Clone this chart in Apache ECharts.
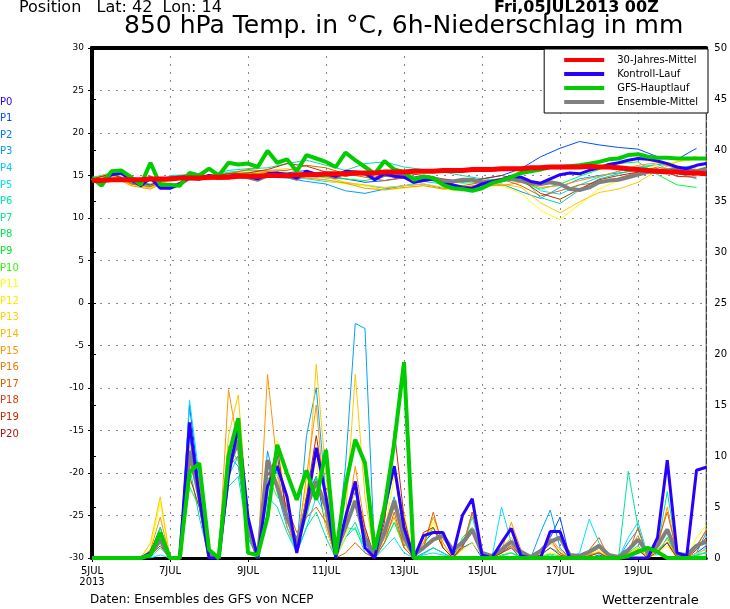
<!DOCTYPE html>
<html>
<head>
<meta charset="utf-8">
<script src="https://cdn.jsdelivr.net/npm/echarts@6/dist/echarts.min.js"></script>
<style>html,body{margin:0;padding:0;background:#fff}#main{width:730px;height:609px}</style>
</head>
<body>
<div id="main"></div>
<script>
// Zeitachse: Stunden ab 05JUL2013 00Z, 6h-Schritte
const tickLabels = { 0: '5JUL\n2013', 48: '7JUL', 96: '9JUL', 144: '11JUL', 192: '13JUL', 240: '15JUL', 288: '17JUL', 336: '19JUL' }

// 850 hPa Temperatur, 6h
const climoTemp = [14.4,14.4,14.5,14.5,14.5,14.5,14.6,14.6,14.6,14.7,14.7,14.7,14.8,14.8,14.8,14.9,14.9,14.9,15.0,15.0,15.0,15.1,15.1,15.1,15.2,15.2,15.2,15.3,15.3,15.3,15.4,15.4,15.4,15.5,15.5,15.5,15.6,15.6,15.6,15.7,15.7,15.7,15.8,15.8,15.8,15.9,15.9,16.0,16.0,16.0,16.0,16.1,16.0,16.0,15.9,15.8,15.7,15.6,15.5,15.4,15.4,15.3,15.3,15.2]
const gfsTemp = [14.7,13.8,15.5,15.6,14.8,13.9,16.5,13.9,13.9,13.8,15.3,15.0,15.8,15.0,16.5,16.3,16.4,16.0,17.9,16.5,16.9,15.5,17.4,17.0,16.6,16.0,17.7,16.8,16.0,15.2,16.7,15.7,15.4,14.5,14.9,14.7,13.9,13.5,13.4,13.2,13.5,14.1,14.4,14.8,15.3,15.5,15.7,16.0,16.0,16.1,16.2,16.4,16.6,16.9,17.0,17.4,17.5,17.2,17.1,17.1,17.0,17.0,17.0,17.0]
const controlTemp = [14.6,14.3,15.1,15.3,14.5,13.8,14.7,13.5,13.5,14.0,14.8,14.6,15.0,14.7,14.9,15.0,14.9,14.6,15.2,15.3,15.1,14.7,15.5,15.1,15.2,14.9,15.5,15.4,15.3,14.5,15.2,14.9,14.8,14.2,14.4,14.6,14.0,13.9,13.6,13.5,14.0,14.3,14.5,14.9,14.8,14.3,14.1,14.6,15.1,15.3,15.2,15.6,15.9,16.3,16.5,16.8,17.0,16.9,16.7,16.4,16.0,15.8,16.2,16.4]
const meanTemp = [14.6,14.4,15.2,15.3,14.6,14.0,14.8,13.7,13.6,14.0,14.7,14.6,14.9,14.7,14.8,14.9,14.8,14.5,15.0,15.1,15.0,14.6,15.3,15.0,15.1,14.8,15.4,15.3,15.2,14.6,15.1,15.0,14.9,14.4,14.5,14.7,14.3,14.3,14.5,14.5,14.2,14.3,14.5,14.6,14.4,14.1,14.0,14.2,14.0,13.4,13.3,13.6,14.2,14.4,14.5,14.8,15.1,15.4,15.5,15.6,15.8,15.6,15.5,15.8]

// Ensemble-Mitglieder Temperatur, 12h
const memberNames = ['P1','P3','P5','P7','P9','P11','P13','P15','P17','P19']
const memberColors = ['#0050ff','#00a0ff','#00e0ff','#00e0a0','#00ff40','#ffff00','#ffc800','#ff9600','#e06400','#c82800']
const memberTemp = [
  [14.5,15.3,14.1,13.6,14.9,15.0,14.8,15.1,15.2,15.4,15.3,15.6,15.0,14.6,14.2,14.4,14.8,14.9,14.5,14.2,14.6,15.0,15.8,17.2,18.2,19.0,18.6,18.3,18.1,17.2,16.9,18.2],
  [14.7,15.1,14.2,13.8,14.8,14.8,14.6,15.0,15.0,14.8,14.7,14.3,14.0,13.2,12.9,13.4,13.8,14.0,13.5,13.2,13.6,14.0,13.1,12.3,13.6,14.6,15.0,15.3,15.6,15.2,15.9,16.2],
  [14.6,15.4,14.3,13.7,15.0,15.1,14.9,15.4,15.6,15.3,15.0,14.6,14.3,14.1,13.8,13.5,13.8,14.3,14.0,13.5,13.8,14.3,14.7,13.2,12.8,13.9,14.8,15.5,16.0,16.3,15.3,14.6],
  [14.5,15.0,14.4,14.0,14.7,15.2,15.0,15.6,15.8,15.9,16.4,16.8,16.2,15.6,16.4,16.6,16.0,15.7,15.4,15.0,14.6,14.5,14.9,12.4,11.7,13.3,14.6,15.2,15.8,16.3,16.1,15.6],
  [14.8,15.2,14.2,13.9,14.9,15.0,14.8,15.3,15.4,15.1,14.9,15.2,14.7,14.6,14.4,14.9,15.1,14.6,14.4,14.1,14.2,14.6,14.2,13.4,14.0,14.9,15.7,16.4,16.6,15.1,13.9,13.6],
  [14.4,15.1,13.9,13.6,14.6,14.9,14.7,15.1,15.5,15.2,15.0,14.8,14.4,14.0,13.8,13.3,13.5,13.8,13.4,13.2,13.7,13.8,12.9,10.9,9.8,11.6,13.4,14.4,15.1,16.4,16.6,16.9],
  [14.6,15.3,14.0,13.5,14.7,14.8,14.6,14.9,15.2,15.6,15.8,15.2,14.8,14.2,13.9,13.6,13.8,14.0,13.6,13.5,13.9,14.0,13.6,11.8,10.6,11.9,13.0,13.4,14.2,15.6,16.6,17.3],
  [14.3,15.0,13.8,13.4,14.5,14.6,14.5,14.8,15.0,15.4,15.1,14.7,14.5,14.1,13.5,13.3,13.6,13.8,13.4,13.6,14.0,13.8,14.2,13.6,13.8,14.4,14.9,15.5,16.2,16.5,15.8,15.9],
  [14.5,15.2,14.0,13.7,14.6,15.1,15.0,15.2,15.7,15.5,15.6,16.2,15.9,15.2,14.8,14.4,14.7,14.6,14.1,13.8,14.2,14.6,13.8,12.6,13.2,13.9,14.2,14.7,15.4,16.0,15.5,15.0],
  [14.6,15.2,14.3,13.9,14.8,15.0,14.9,15.2,15.3,15.7,16.4,16.1,15.4,14.9,15.3,15.6,15.3,15.0,14.6,14.3,14.6,15.0,14.5,12.9,12.2,13.4,14.5,15.0,15.4,15.8,14.9,14.8]
]

// 6h-Niederschlag
const gfsPrecip = [0,0,0,0,0,0,0.3,2.5,0,0,8.4,9.3,0.8,0,10.0,13.7,0.5,0.3,4.0,11.1,8.3,5.7,8.6,5.7,10.6,0.3,7.1,11.6,9.3,0.8,5.0,11.3,19.2,0,0,0,0,0,0,0,0,0,0,0,0,0,0,0,0,0,0,0,0,0,0,0.2,0.6,1.0,0.6,0,0,0,0,0]
const controlPrecip = [0,0,0,0,0,0,0.5,2.5,0,0,13.3,6.0,0,0,8.0,13.0,4.0,0,7.0,9.0,6.0,0.5,5.0,10.8,6.0,0,4.0,7.5,1.0,0,5.0,9.0,3.0,0,2.2,2.5,2.5,0.3,4.2,5.8,0.3,0,1.5,2.9,0.2,0,0,2.6,2.6,0,0,0,0,0,0,0,0,0,2.0,9.6,0.5,0.2,8.6,8.9]
const meanPrecip = [0,0,0,0,0,0,0.4,1.8,0,0,10.5,6.0,0.3,0,9.0,11.5,3.0,0,9.6,7.0,4.0,1.5,5.0,7.5,5.0,0.5,3.0,5.6,2.0,0.3,2.5,5.6,2.0,0.3,1.0,1.8,2.2,0.8,1.5,2.8,0.5,0.2,0.8,1.6,0.6,0.1,0.7,1.6,2.0,0.3,0.2,0.6,1.2,0.3,0.1,0.8,1.8,0.5,1.2,2.8,0.4,0.3,1.2,1.6]
const memberPrecip = [
  [0,0,0,0,0,0,0.5,3.0,0,0,15.0,7.0,0,0,9.5,12.0,3.0,0,8.0,10.0,4.0,0.5,6.0,8.0,3.0,0,4.0,6.5,1.5,0,4.0,9.0,2.0,0,1.5,2.5,2.0,0.5,1.0,1.5,0,0,0.5,1.0,0,0,0.5,2.0,4.0,0,0,0,0.3,0,0,0.2,0.8,0,0.5,1.5,0,0,0.5,1.2],
  [0,0,0,0,0,0,0.2,1.5,0,0,12.0,5.5,0,0,10.0,9.0,2.0,0,10.5,6.5,3.0,1.0,12.0,16.7,6.0,0,9.0,23.0,22.5,0,3.0,6.0,1.0,0,0.5,1.0,0.5,0,1.5,3.0,0.3,0,0.5,1.5,0.4,0,2.5,4.7,1.0,0,0,0.3,1.0,0,0,1.5,2.8,0.2,0.8,1.5,0,0,0.5,2.5],
  [0,0,0,0,0,0,0,0.3,0,0,15.5,8.0,0,0,8.0,10.0,2.5,0,7.0,8.5,3.0,0.5,3.0,6.0,4.0,0,2.0,3.0,0.5,0,1.0,2.0,0.5,0,0.3,0.5,0.3,0,1.0,4.0,0.4,0,5.0,1.5,0.5,0,0.3,1.0,0.5,0,0.5,3.8,1.5,0,0,2.0,3.5,0.3,0.3,2.0,0.2,0,0.3,1.0],
  [0,0,0,0,0,0,0.1,1.0,0,0,9.0,4.0,0,0,7.0,8.0,2.0,0,6.0,5.0,2.5,0.5,3.0,4.5,2.0,0,2.0,3.5,1.0,0,1.5,3.5,1.5,0,0.4,1.0,0.5,0,0.8,4.5,0.5,0,0.3,0.5,0,0,0.2,0.4,0.2,0,0,0.5,1.0,0,0,8.5,3.0,0,1.0,6.5,0.5,0,0.3,0.5],
  [0,0,0,0,0,0,0.5,3.0,0,0,7.0,5.0,0,0,11.0,9.5,3.5,0,8.0,6.0,5.0,1.0,4.0,8.0,5.0,0,3.0,2.8,1.0,0,1.5,3.5,1.0,0,1.2,3.0,1.0,0,2.0,3.0,0.2,0,0.2,0.5,0.2,0,0.1,0.3,0,0,0,0.2,0.5,0,0,0.5,1.2,0,0.5,2.0,0,0,0.2,0.6],
  [0,0,0,0,0,0,1.0,5.5,0,0,10.0,6.5,0,0,8.5,12.5,3.0,0,6.5,11.5,5.0,1.5,7.0,9.5,3.0,0,2.0,7.0,2.5,0,2.5,8.0,4.5,0,1.5,3.5,1.5,0,0.8,1.5,0.2,0,0.4,1.2,0.3,0,0.2,0.5,0.3,0,0,0.4,0.8,0,0,0.3,1.0,0,0.5,1.2,0,0,2.0,3.2],
  [0,0,0,0,0,0,1.5,6.0,0,0,11.0,7.0,0,0,12.0,16.0,4.0,0,9.0,8.0,4.0,1.0,5.0,19.0,8.0,0,4.0,18.0,6.0,0,2.0,5.0,1.5,0,2.0,3.0,1.0,0,1.5,3.0,0.3,0,1.0,2.0,0.5,0,0.5,1.5,0.5,0,0,0.5,1.0,0,0,0.4,1.0,0,0.8,1.8,0,0,0.5,0.8],
  [0,0,0,0,0,0,0.8,4.0,0,0,10.0,7.5,0,0,16.5,11.0,3.0,0,18.0,9.0,3.0,1.0,8.0,15.0,4.0,0,3.0,9.0,3.0,0,2.0,4.0,1.0,0,1.5,4.0,1.5,0,1.0,4.5,0.5,0,0.8,3.5,0.8,0,0.5,2.0,0.8,0,0,0.3,0.6,0,0,0.8,2.2,0,1.0,5.0,0.5,0,1.0,2.8],
  [0,0,0,0,0,0,0.4,1.5,0,0,9.5,6.0,0,0,9.0,10.0,2.5,0,8.5,7.0,5.0,2.5,4.0,5.0,3.5,0,0.5,1.5,0.5,0,1.5,4.5,1.0,0,1.0,4.5,1.0,0,1.0,4.5,0.5,0,0.5,1.0,0.3,0,0.8,1.8,0.5,0,0,0.8,2.0,0,0,0.5,3.0,0,1.5,4.5,0.5,0,1.2,2.7],
  [0,0,0,0,0,0,0.3,1.2,0,0,8.0,5.0,0,0,10.5,12.5,3.0,0,7.0,11.0,4.0,1.0,6.0,12.0,6.0,0,4.0,7.0,3.0,0,3.5,12.5,4.0,0,2.5,3.0,1.0,0,1.2,2.5,0.3,0,0.5,1.2,0.3,0,0.3,1.0,0.3,0,0,0.2,0.5,0,0,0.3,0.8,0,0.6,1.5,0,0,0.8,2.0]
]

// P0..P20 Beschriftung links
const pLabels = ['P0','P1','P2','P3','P4','P5','P6','P7','P8','P9','P10','P11','P12','P13','P14','P15','P16','P17','P18','P19','P20']
const pColors = ['#2800ff','#0050ff','#0078ff','#0096ff','#00c8ff','#00e6ff','#00e6b4','#00e68c','#00e650','#00e628','#28ff00','#ffff00','#ffe600','#ffd200','#ffb400','#ff9600','#f07800','#e65a00','#dc3c14','#c82800','#b41414']

function toPairs(arr, step) {
    return arr.map((v, i) => [i * step, v])
}

let series = []

memberTemp.forEach((arr, k) => {
    series.push({ name: memberNames[k], type: 'line', data: toPairs(arr, 12), yAxisIndex: 0, symbol: 'none', lineStyle: { width: 1, color: memberColors[k] }, z: 2, silent: true })
})
memberPrecip.forEach((arr, k) => {
    series.push({ name: memberNames[k] + 'p', type: 'line', data: toPairs(arr, 6), yAxisIndex: 1, symbol: 'none', lineStyle: { width: 1, color: memberColors[k] }, z: 2, silent: true })
})

const mains = [
    ['Ensemble-Mittel', '#808080', meanTemp, meanPrecip, 4],
    ['Kontroll-Lauf', '#2800ff', controlTemp, controlPrecip, 3],
    ['GFS-Hauptlauf', '#00cc00', gfsTemp, gfsPrecip, 4]
]
mains.forEach(m => {
    series.push({ name: m[0], type: 'line', data: toPairs(m[2], 6), yAxisIndex: 0, symbol: 'none', color: m[1], lineStyle: { width: m[4], color: m[1] }, z: 4 })
    series.push({ name: m[0], type: 'line', data: toPairs(m[3], 6), yAxisIndex: 1, symbol: 'none', color: m[1], lineStyle: { width: m[4], color: m[1] }, z: 4 })
})
series.push({ name: '30-Jahres-Mittel', type: 'line', data: toPairs(climoTemp, 6), yAxisIndex: 0, symbol: 'none', color: '#ff0000', lineStyle: { width: 5, color: '#ff0000' }, z: 5 })

const font = 'DejaVu Sans'
const dotted = { show: true, lineStyle: { color: '#888', type: [2, 6], width: 1 } }

let graphics = pLabels.map((t, i) => ({
    type: 'text', left: 0, top: 97 + i * 16.6,
    style: { text: t, fill: pColors[i], font: '10px ' + font }
}))
graphics.push(
    { type: 'text', left: 19, top: 0, style: { text: 'Position   Lat: 42  Lon: 14', fill: '#000', font: '16px ' + font } },
    { type: 'text', left: 494, top: 0, style: { text: 'Fri,05JUL2013 00Z', fill: '#000', font: 'bold 16px ' + font } },
    { type: 'text', left: 124, top: 14, style: { text: '850 hPa Temp. in °C, 6h-Niederschlag in mm', fill: '#000', font: '25px ' + font } },
    { type: 'text', left: 90, top: 594, style: { text: 'Daten: Ensembles des GFS von NCEP', fill: '#000', font: '12px ' + font } },
    { type: 'text', left: 602, top: 594, style: { text: 'Wetterzentrale', fill: '#000', font: '13px ' + font } }
)

let option = {
    animation: false,
    backgroundColor: '#fff',
    textStyle: { fontFamily: font },
    grid: { left: 92, right: 18, top: 48, bottom: 51, show: true, borderColor: '#000', borderWidth: 1 },
    legend: {
        data: ['30-Jahres-Mittel', 'Kontroll-Lauf', 'GFS-Hauptlauf', 'Ensemble-Mittel'],
        orient: 'vertical', right: 22, top: 49, itemWidth: 40, itemHeight: 4, itemGap: 4,
        icon: 'rect', padding: [6, 10, 6, 20], backgroundColor: '#fff', borderColor: '#000', borderWidth: 1,
        textStyle: { fontSize: 10, color: '#000', padding: [0, 0, 0, 8] }
    },
    graphic: graphics,
    xAxis: [{
        type: 'value', min: 0, max: 378, interval: 48,
        axisLine: { onZero: false, lineStyle: { color: '#000', width: 3 } },
        axisTick: { show: true, length: 4, lineStyle: { color: '#000' } },
        axisLabel: { color: '#000', fontSize: 10, lineHeight: 11, showMaxLabel: false, formatter: v => tickLabels[v] || '' },
        splitLine: dotted
    }, {
        type: 'value', position: 'top', min: 0, max: 378,
        axisLine: { show: true, onZero: false, lineStyle: { color: '#000', width: 4 } },
        axisTick: { show: false }, axisLabel: { show: false }, splitLine: { show: false }
    }],
    yAxis: [{
        type: 'value', min: -30, max: 30, interval: 5,
        axisLine: { show: true, lineStyle: { color: '#000', width: 4 } },
        axisTick: { show: true, length: 4, lineStyle: { color: '#000' } },
        axisLabel: { color: '#000', fontSize: 9, margin: 8 },
        splitLine: dotted
    }, {
        type: 'value', min: 0, max: 50, interval: 5, position: 'right',
        axisLine: { show: true, lineStyle: { color: '#000', width: 4 } },
        axisTick: { show: true, length: 4, lineStyle: { color: '#000' } },
        axisLabel: { color: '#000', fontSize: 10, margin: 8 },
        splitLine: { show: false }
    }],
    series: series
}

let myChart = echarts.init(document.getElementById('main'))
myChart.setOption(option)
</script>
</body>
</html>
